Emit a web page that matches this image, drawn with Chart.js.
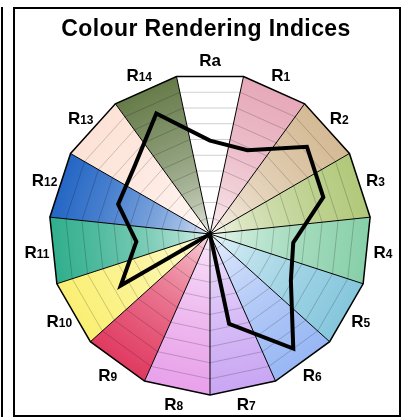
<!DOCTYPE html>
<html>
<head>
<meta charset="utf-8">
<script src="https://cdn.jsdelivr.net/npm/chart.js@4.4.1/dist/chart.umd.min.js"></script>
<style>
  html, body { margin: 0; padding: 0; background: #fff; }
  #prev { position: absolute; left: 1px; top: 7px; width: 2px; height: 410px; background: #000; }
  #box { position: absolute; left: 13px; top: 7px; width: 388px; height: 410px; border: 2px solid #000; box-sizing: border-box; }
  canvas { display: block; }
</style>
</head>
<body>
<div id="prev"></div>
<div id="box"><canvas id="cri" width="384" height="406"></canvas></div>
<script>
const chartTitle = 'Colour Rendering Indices';
const indexLabels = ['Ra', 'R1', 'R2', 'R3', 'R4', 'R5', 'R6', 'R7', 'R8', 'R9', 'R10', 'R11', 'R12', 'R13', 'R14'];
const indexValues = [58, 57, 81, 74, 52, 58, 88, 57, 0, 0, 64, 46, 60, 63, 82];
const sectorColours = [
    '#ffffff', '#e6a8b8', '#d4b993', '#b0c878', '#86cfa8', '#84c6dc', '#97b6f4', '#c9a5f3',
    '#e8a0ea', '#e0385f', '#faef72', '#2fae8c', '#2265c4', '#fde2d6', '#657a48'
];
const gridMax = 100;
const gridStep = 10;

const FONT = '"Liberation Sans", Arial, Helvetica, sans-serif';

// white -> colour, t in 0..1
function mix(hex, t) {
    const n = parseInt(hex.slice(1), 16);
    const r = (n >> 16) & 255, g = (n >> 8) & 255, b = n & 255;
    const m = v => Math.round(255 + (v - 255) * t);
    return `rgb(${m(r)},${m(g)},${m(b)})`;
}

function sectorFill(colour) {
    return (ctx) => {
        const s = ctx.chart.scales.grid;
        if (!s || !s.drawingArea) return colour;
        const g = ctx.chart.ctx.createRadialGradient(s.xCenter, s.yCenter, 0, s.xCenter, s.yCenter, s.drawingArea);
        [0, 0.05, 0.1, 0.2, 0.35, 0.5, 0.7, 1].forEach(t => g.addColorStop(t, mix(colour, Math.sqrt(t))));
        return g;
    };
}

// one filled triangle per index, between its two corners on the grid scale
const sectorSets = indexLabels.map((name, k) => {
    const data = indexLabels.map(() => 0);
    data[(k + indexLabels.length - 1) % indexLabels.length] = gridMax;
    data[k] = gridMax;
    return {
        data: data,
        rAxisID: 'grid',
        fill: 'origin',
        backgroundColor: sectorFill(sectorColours[k]),
        borderColor: 'rgba(0,0,0,0)',
        borderWidth: 0,
        pointRadius: 0
    };
});

const labelPlugin = {
    id: 'indexLabels',
    afterDraw(chart) {
        const s = chart.scales.r;
        const c = chart.ctx;
        c.save();
        c.fillStyle = '#000';
        c.textBaseline = 'alphabetic';
        c.textAlign = 'left';
        const bigFont = 'bold 17px ' + FONT;
        const smallFont = 'bold 12px ' + FONT;
        indexLabels.forEach((name, i) => {
            const p = s.getPointPosition(i, s.drawingArea + 13);
            const head = name[0];
            const tail = name.slice(1);
            const tailFont = /^\d+$/.test(tail) ? smallFont : bigFont;
            c.font = bigFont;
            const w1 = c.measureText(head).width;
            c.font = tailFont;
            const w2 = c.measureText(tail).width;
            const x0 = p.x - (w1 + w2) / 2;
            const base = p.y + 6;
            c.font = bigFont;
            c.fillText(head, x0, base);
            c.font = tailFont;
            c.fillText(tail, x0 + w1, base);
        });
        // title
        c.font = 'bold 23px ' + FONT;
        c.letterSpacing = '0.4px';
        c.textAlign = 'center';
        c.fillText(chartTitle, 191, 27);
        c.restore();
    }
};

new Chart(document.getElementById('cri'), {
    type: 'radar',
    data: {
        labels: indexLabels,
        datasets: [{
            data: indexValues,
            rAxisID: 'r',
            borderColor: '#000',
            borderWidth: 4,
            backgroundColor: 'rgba(0,0,0,0)',
            fill: false,
            pointRadius: 0
        }].concat(sectorSets)
    },
    options: {
        responsive: false,
        animation: false,
        events: [],
        layout: { padding: { left: 34, right: 28, top: 64, bottom: 20 } },
        elements: { line: { tension: 0, borderJoinStyle: 'miter' } },
        plugins: {
            legend: { display: false },
            title: { display: false },
            tooltip: { enabled: false }
        },
        scales: {
            r: {
                display: false,
                min: 0,
                max: gridMax,
                startAngle: 0,
                ticks: { display: false }
            },
            grid: {
                type: 'radialLinear',
                axis: 'r',
                min: 0,
                max: gridMax,
                startAngle: 12,
                ticks: { display: false, stepSize: gridStep },
                pointLabels: { display: false },
                grid: {
                    z: 1,
                    color: c => c.tick.value === gridMax ? '#000' : 'rgba(0,0,0,0.24)',
                    lineWidth: c => c.tick.value === gridMax ? 1.5 : 0.8
                },
                angleLines: { color: '#000', lineWidth: 1 }
            }
        }
    },
    plugins: [labelPlugin]
});
</script>
</body>
</html>
